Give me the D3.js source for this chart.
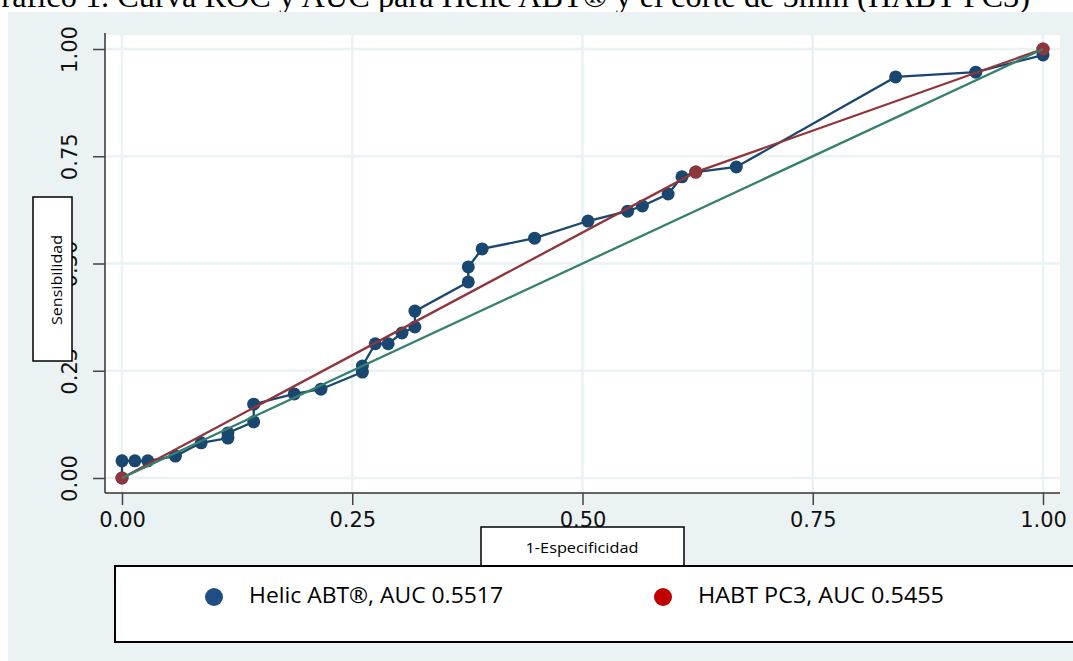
<!DOCTYPE html>
<html>
<head>
<meta charset="utf-8">
<script src="https://cdn.jsdelivr.net/npm/d3@7"></script>
<style>
  body { margin: 0; background: #fff; }
  svg { display: block; }
</style>
</head>
<body>
<svg width="1073" height="661"></svg>
<script>
// ROC data
var helicX = [0, 0, 0.014, 0.028, 0.058, 0.086, 0.115, 0.115, 0.143, 0.143, 0.187, 0.216,
              0.261, 0.261, 0.275, 0.289, 0.304, 0.318, 0.318, 0.376, 0.376, 0.391, 0.448,
              0.506, 0.549, 0.565, 0.593, 0.608, 0.623, 0.667, 0.840, 0.927, 1, 1];
var helicY = [0, 0.040, 0.040, 0.040, 0.051, 0.082, 0.093, 0.105, 0.131, 0.172, 0.196, 0.207,
              0.247, 0.261, 0.313, 0.313, 0.338, 0.352, 0.389, 0.457, 0.492, 0.534, 0.559,
              0.599, 0.622, 0.634, 0.662, 0.702, 0.713, 0.725, 0.935, 0.946, 0.986, 1];
var habtX = [0, 0.623, 1];
var habtY = [0, 0.713, 1];
var refX = [0, 1];
var refY = [0, 1];
var ticks = [0, 0.25, 0.5, 0.75, 1];
var legendLabels = ["Helic ABT®, AUC 0.5517", "HABT PC3, AUC 0.5455"];
var titleText = "Gráfico 1. Curva ROC y AUC para Helic ABT® y el corte de 5mm (HABT PC3)";

var svg = d3.select("svg");

var x = d3.scaleLinear().domain([0, 1]).range([122, 1043]);
var y = d3.scaleLinear().domain([0, 1]).range([478, 49]);

// title (cut off at the top in the original)
svg.append("text")
    .attr("x", -22).attr("y", 7)
    .attr("textLength", 1052).attr("lengthAdjust", "spacingAndGlyphs")
    .style("font-family", "'Liberation Serif', 'Times New Roman', serif")
    .style("font-size", "31px")
    .text(titleText);

// graph background + plot region
svg.append("rect").attr("x", 8).attr("y", 12).attr("width", 1065).attr("height", 649)
    .attr("fill", "#eaf2f3");
svg.append("rect").attr("x", 105).attr("y", 35).attr("width", 955).attr("height", 458)
    .attr("fill", "#fff");

// grid
var grid = svg.append("g").attr("stroke", "#eaf2f3").attr("stroke-width", 2.5);
grid.selectAll(".gx").data(ticks).enter().append("line")
    .attr("x1", d => x(d)).attr("x2", d => x(d)).attr("y1", 35).attr("y2", 493);
grid.selectAll(".gy").data(ticks).enter().append("line")
    .attr("y1", d => y(d)).attr("y2", d => y(d)).attr("x1", 105).attr("x2", 1060);

// axes
var xAxis = svg.append("g").attr("transform", "translate(0,493)")
    .call(d3.axisBottom(x).tickValues(ticks).tickFormat(d3.format(".2f")).tickSize(12).tickPadding(6));
var yAxis = svg.append("g").attr("transform", "translate(105,0)")
    .call(d3.axisLeft(y).tickValues(ticks).tickFormat(d3.format(".2f")).tickSize(12).tickPadding(16));

xAxis.select(".domain").attr("d", "M105,0H1060").attr("stroke", "#333").attr("stroke-width", 1.5);
yAxis.select(".domain").attr("d", "M0,33V493").attr("stroke", "#333").attr("stroke-width", 1.5);
svg.selectAll(".tick line").attr("stroke", "#444").attr("stroke-width", 1.5);
svg.selectAll(".tick text")
    .attr("fill", "#111")
    .style("font-family", "'DejaVu Sans', Verdana, sans-serif")
    .style("font-size", "21px");
xAxis.selectAll(".tick text").attr("dy", "0").attr("y", 34);
yAxis.selectAll(".tick text")
    .attr("x", 0).attr("dy", 0)
    .attr("text-anchor", "middle")
    .attr("transform", "translate(-28,0) rotate(-90)");

// curves
var line = d3.line().x(d => x(d[0])).y(d => y(d[1]));
var helic = helicX.map((v, i) => [v, helicY[i]]);
var habt = habtX.map((v, i) => [v, habtY[i]]);
var ref = refX.map((v, i) => [v, refY[i]]);

svg.append("path").datum(helic).attr("d", line)
    .attr("fill", "none").attr("stroke", "#1a476f").attr("stroke-width", 2.3);
svg.selectAll(".hp").data(helic).enter().append("circle")
    .attr("cx", d => x(d[0])).attr("cy", d => y(d[1])).attr("r", 6.5)
    .attr("fill", "#1a476f");

svg.append("path").datum(habt).attr("d", line)
    .attr("fill", "none").attr("stroke", "#90353b").attr("stroke-width", 2.3);
svg.selectAll(".rp").data(habt).enter().append("circle")
    .attr("cx", d => x(d[0])).attr("cy", d => y(d[1])).attr("r", 6.5)
    .attr("fill", "#90353b");

svg.append("path").datum(ref).attr("d", line)
    .attr("fill", "none").attr("stroke", "#36806f").attr("stroke-width", 2.3);

// axis title boxes
svg.append("rect").attr("x", 33).attr("y", 197).attr("width", 39).attr("height", 164)
    .attr("fill", "#fff").attr("stroke", "#000").attr("stroke-width", 1.5);
svg.append("text")
    .attr("transform", "translate(62,280) rotate(-90)")
    .attr("text-anchor", "middle")
    .attr("textLength", 90).attr("lengthAdjust", "spacingAndGlyphs")
    .style("font-family", "'Open Sans', sans-serif").style("font-size", "14px")
    .text("Sensibilidad");

svg.append("rect").attr("x", 481).attr("y", 527).attr("width", 203).attr("height", 39)
    .attr("fill", "#fff").attr("stroke", "#000").attr("stroke-width", 1.5);
svg.append("text")
    .attr("x", 582).attr("y", 553)
    .attr("text-anchor", "middle")
    .attr("textLength", 113).attr("lengthAdjust", "spacingAndGlyphs")
    .style("font-family", "'Open Sans', sans-serif").style("font-size", "14px")
    .text("1-Especificidad");

// legend
svg.append("rect").attr("x", 115).attr("y", 566).attr("width", 1000).attr("height", 76)
    .attr("fill", "#fff").attr("stroke", "#000").attr("stroke-width", 2);
var legColors = ["#1f4e86", "#c00000"];
var legX = [214, 663];
var legW = [254, 246];
var leg = svg.selectAll(".leg").data(legendLabels).enter().append("g");
leg.append("circle")
    .attr("cx", (d, i) => legX[i]).attr("cy", 597).attr("r", 9)
    .attr("fill", (d, i) => legColors[i]);
leg.append("text")
    .attr("x", (d, i) => legX[i] + 35).attr("y", 603)
    .attr("textLength", (d, i) => legW[i]).attr("lengthAdjust", "spacingAndGlyphs")
    .style("font-family", "'Open Sans', sans-serif").style("font-size", "21px")
    .text(d => d);
</script>
</body>
</html>
